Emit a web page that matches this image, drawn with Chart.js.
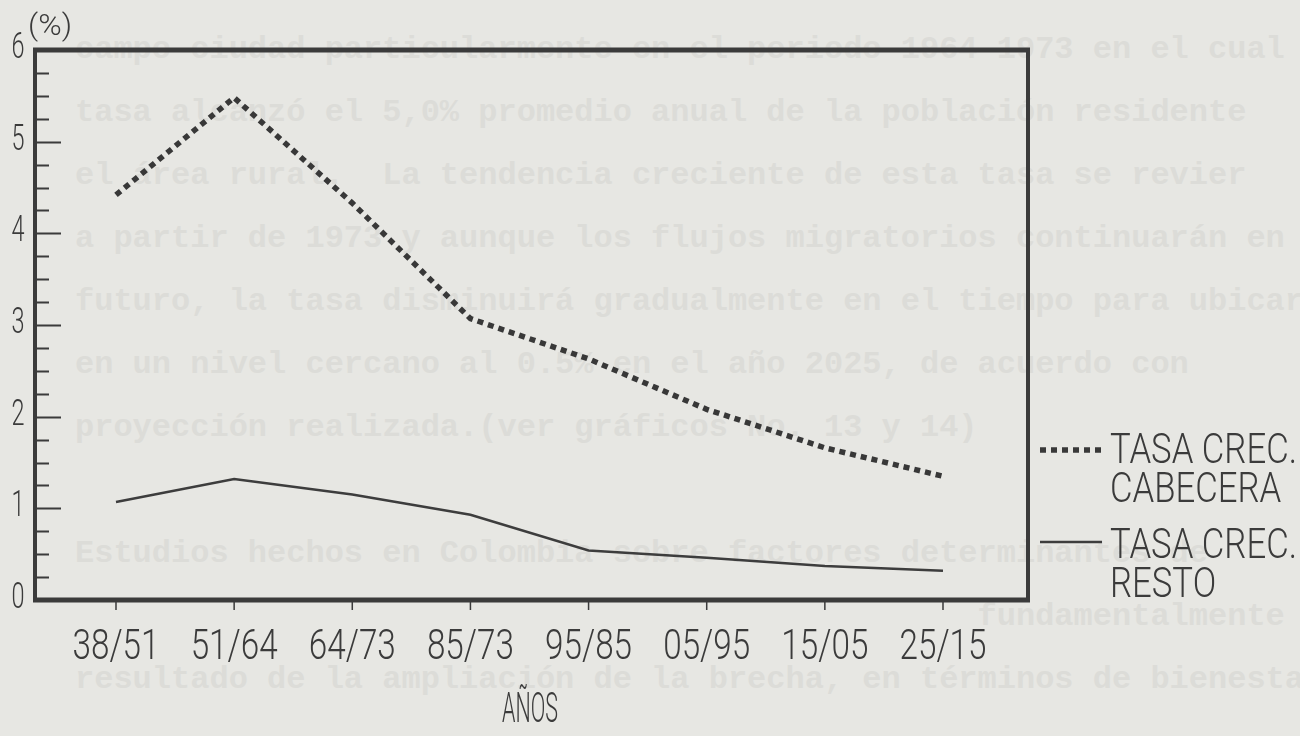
<!DOCTYPE html>
<html><head><meta charset="utf-8">
<script src="https://cdn.jsdelivr.net/npm/chart.js@4.4.1/dist/chart.umd.min.js"></script>
<style>
html,body{margin:0;padding:0;background:#e7e7e3;width:1300px;height:736px;overflow:hidden;}
#bg{position:absolute;left:0;top:0;width:1300px;height:736px;}
#bg div{position:absolute;left:75px;font:bold 32px 'Liberation Mono','DejaVu Sans Mono',monospace;color:#dcdcd8;white-space:pre;line-height:1;}
canvas{position:absolute;left:0;top:0;}
</style></head><body>
<div id="bg"></div>
<canvas id="c" width="1300" height="736"></canvas>
<script>
// ---- data ----
const categories = ['38/51','51/64','64/73','85/73','95/85','05/95','15/05','25/15'];
const cabecera = [4.42, 5.48, 4.33, 3.07, 2.63, 2.08, 1.66, 1.35];
const resto = [1.07, 1.32, 1.15, 0.93, 0.54, 0.46, 0.37, 0.32];
const yTickLabels = ['0','1','2','3','4','5','6'];
const legendCabecera = ['TASA CREC.', 'CABECERA'];
const legendResto = ['TASA CREC.', 'RESTO'];
const xTitle = 'AÑOS';
const yTitle = '(%)';
const backgroundText = [
  'campo-ciudad particularmente en el periodo 1964-1973 en el cual',
  'tasa alcanzó el 5,0% promedio anual de la población residente',
  'el área rural.  La tendencia creciente de esta tasa se revier',
  'a partir de 1973 y aunque los flujos migratorios continuarán en',
  'futuro, la tasa disminuirá gradualmente en el tiempo para ubicar',
  'en un nivel cercano al 0.5% en el año 2025, de acuerdo con',
  'proyección realizada.(ver gráficos No. 13 y 14)',
  '',
  'Estudios hechos en Colombia sobre factores determinantes de',
  '                                               fundamentalmente',
  'resultado de la ampliación de la brecha, en términos de bienestar'
];

// faint show-through text of the scanned page
const bg = document.getElementById('bg');
backgroundText.forEach((t, i) => {
  const d = document.createElement('div');
  d.textContent = t;
  d.style.top = (34 + i * 63) + 'px';
  bg.appendChild(d);
});

const INK = '#3b3b3b';
const FONT = "Roboto, 'Noto Sans', 'DejaVu Sans', sans-serif";

function drawScaled(ctx, text, x, y, size, sx, align) {
  ctx.save();
  ctx.font = '300 ' + size + 'px ' + FONT;
  ctx.translate(x, y);
  ctx.scale(sx, 1);
  ctx.textAlign = align;
  ctx.textBaseline = 'alphabetic';
  ctx.fillStyle = INK;
  ctx.fillText(text, 0, 0);
  ctx.restore();
}
function scaleFor(ctx, sample, size, width) {
  ctx.save();
  ctx.font = '300 ' + size + 'px ' + FONT;
  const w = ctx.measureText(sample).width;
  ctx.restore();
  return width / w;
}

const decor = {
  id: 'decor',
  afterDraw(chart) {
    const ctx = chart.ctx;
    const a = chart.chartArea;
    const xs = chart.scales.x, ys = chart.scales.y;
    ctx.save();
    ctx.strokeStyle = INK;
    ctx.lineCap = 'butt';
    // frame
    ctx.lineWidth = 5;
    ctx.beginPath();
    ctx.moveTo(a.left - 2, a.top); ctx.lineTo(a.right + 2, a.top);
    ctx.moveTo(a.left - 2, a.bottom); ctx.lineTo(a.right + 2, a.bottom);
    ctx.stroke();
    ctx.lineWidth = 4;
    ctx.beginPath();
    ctx.moveTo(a.left, a.top); ctx.lineTo(a.left, a.bottom);
    ctx.moveTo(a.right, a.top); ctx.lineTo(a.right, a.bottom);
    ctx.stroke();
    // y ticks (inside), every 0.25
    ctx.lineWidth = 2;
    ctx.beginPath();
    for (let k = 1; k < 24; k++) {
      const v = k / 4;
      const py = Math.round(ys.getPixelForValue(v)) + 0.5;
      const len = (k % 4 === 0) ? 26 : 14;
      ctx.moveTo(a.left, py); ctx.lineTo(a.left + len, py);
    }
    ctx.stroke();
    // x ticks (outside, small)
    ctx.lineWidth = 1.5;
    ctx.beginPath();
    categories.forEach((c, i) => {
      const px = xs.getPixelForValue(i);
      ctx.moveTo(px, a.bottom + 2); ctx.lineTo(px, a.bottom + 10);
    });
    ctx.stroke();
    ctx.restore();

    // y tick labels
    const sy = scaleFor(ctx, '0', 37, 13);
    yTickLabels.forEach((t, i) => {
      drawScaled(ctx, t, 18, ys.getPixelForValue(Number(t)) + 8, 37, sy, 'center');
    });
    // x tick labels
    const sxl = scaleFor(ctx, categories[0], 42, 87);
    categories.forEach((c, i) => {
      drawScaled(ctx, c, xs.getPixelForValue(i), 659, 42, sxl, 'center');
    });
    // axis titles
    drawScaled(ctx, xTitle, 530, 722, 42, scaleFor(ctx, xTitle, 42, 56), 'center');
    drawScaled(ctx, yTitle, 50, 35, 30, scaleFor(ctx, yTitle, 30, 44), 'center');

    // legend
    const ds = chart.data.datasets;
    ctx.save();
    ctx.strokeStyle = ds[0].borderColor;
    ctx.lineWidth = ds[0].borderWidth;
    ctx.setLineDash(ds[0].borderDash);
    ctx.beginPath(); ctx.moveTo(1040, 450); ctx.lineTo(1101, 450); ctx.stroke();
    ctx.setLineDash([]);
    ctx.strokeStyle = ds[1].borderColor;
    ctx.lineWidth = ds[1].borderWidth;
    ctx.beginPath(); ctx.moveTo(1040, 542); ctx.lineTo(1102, 542); ctx.stroke();
    ctx.restore();
    const sLeg = scaleFor(ctx, legendCabecera[0], 42, 187);
    drawScaled(ctx, legendCabecera[0], 1110, 463, 42, sLeg, 'left');
    drawScaled(ctx, legendCabecera[1], 1110, 502, 42, sLeg, 'left');
    drawScaled(ctx, legendResto[0], 1110, 558, 42, sLeg, 'left');
    drawScaled(ctx, legendResto[1], 1110, 597, 42, sLeg, 'left');
  }
};

new Chart(document.getElementById('c').getContext('2d'), {
  type: 'line',
  data: {
    datasets: [
      {
        label: legendCabecera.join(' '),
        data: cabecera.map((v, i) => ({ x: i, y: v })),
        borderColor: '#383838',
        borderWidth: 5.5,
        borderDash: [6, 5],
        borderCapStyle: 'butt',
        pointRadius: 0,
        tension: 0,
        fill: false
      },
      {
        label: legendResto.join(' '),
        data: resto.map((v, i) => ({ x: i, y: v })),
        borderColor: '#3d3d3d',
        borderWidth: 2.5,
        pointRadius: 0,
        tension: 0,
        fill: false
      }
    ]
  },
  options: {
    responsive: false,
    animation: false,
    devicePixelRatio: 1,
    layout: { padding: { left: 35, top: 50, right: 272, bottom: 136 } },
    plugins: { legend: { display: false }, tooltip: { enabled: false } },
    scales: {
      x: { type: 'linear', min: -0.6856, max: 7.7195, display: false },
      y: { min: 0, max: 6, display: false }
    }
  },
  plugins: [decor]
});
</script>
</body></html>
